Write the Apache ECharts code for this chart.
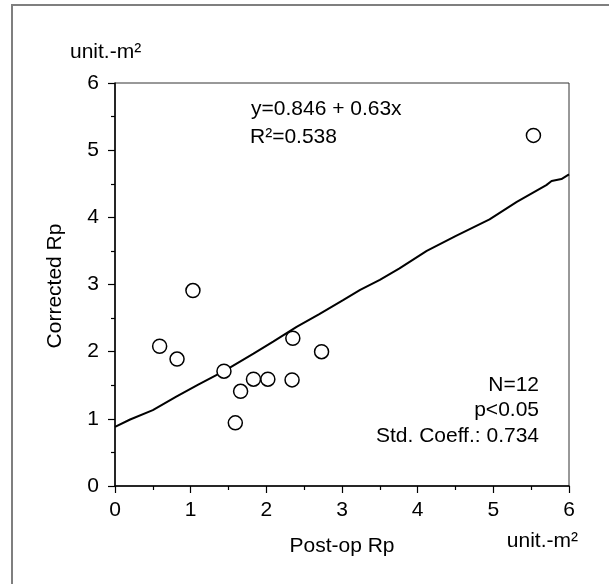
<!DOCTYPE html>
<html><head><meta charset="utf-8">
<script src="https://cdn.jsdelivr.net/npm/echarts@6/dist/echarts.min.js"></script>
<style>html,body{margin:0;padding:0;background:#fff}#c{width:609px;height:584px}</style>
</head><body><div id="c"></div>
<script>
// ---- data ----
const postOpRp    = [0.59, 0.82, 1.03, 1.44, 1.59, 1.66, 1.83, 2.02, 2.34, 2.35, 2.73, 5.53];
const correctedRp = [2.08, 1.89, 2.91, 1.71, 0.94, 1.41, 1.59, 1.59, 1.58, 2.20, 2.00, 5.22];
const fitX = [0, 0.2, 0.5, 0.81, 1.1, 1.44, 1.83, 2.09, 2.40, 2.70, 3.02, 3.24, 3.50, 3.76, 4.12, 4.50, 4.95, 5.31, 5.70, 5.77, 5.90, 6.00];
const fitY = [0.88, 0.99, 1.13, 1.33, 1.51, 1.71, 1.97, 2.15, 2.37, 2.56, 2.77, 2.92, 3.07, 3.24, 3.50, 3.72, 3.97, 4.23, 4.48, 4.54, 4.57, 4.64];
const xTickLabels = ['0', '1', '2', '3', '4', '5', '6'];
const yTickLabels = ['0', '1', '2', '3', '4', '5', '6'];
const equationLines = ['y=0.846 + 0.63x', 'R²=0.538'];
const statLines = ['N=12', 'p<0.05', 'Std. Coeff.: 0.734'];
const xTitle = 'Post-op Rp';
const yTitle = 'Corrected Rp';
const unitText = 'unit.-m²';

// ---- chart ----
const FONT = '"Liberation Sans", Arial, Helvetica, sans-serif';
const FS = 21;
const chart = echarts.init(document.getElementById('c'), null, {renderer: 'canvas'});

function txt(text, x, y, align, extra) {
  return Object.assign({
    type: 'text', x: x, y: y, z: 100,
    style: {
      text: text, fill: '#000',
      font: FS + 'px ' + FONT,
      fontSize: FS, fontFamily: FONT,
      textAlign: align, align: align,
      textVerticalAlign: 'middle', verticalAlign: 'middle'
    }
  }, extra || {});
}

const scatterData = postOpRp.map((v, i) => [v, correctedRp[i]]);
const lineData = fitX.map((v, i) => [v, fitY[i]]);

const axisCommon = {
  type: 'value', min: 0, max: 6, interval: 1,
  axisLine: {show: true, onZero: false, lineStyle: {color: '#000', width: 1.5}},
  axisTick: {show: true, inside: false, length: 7, lineStyle: {color: '#000', width: 1.2}},
  minorTick: {show: true, splitNumber: 2, length: 4, lineStyle: {color: '#000', width: 1.2}},
  splitLine: {show: false},
  minorSplitLine: {show: false}
};

const option = {
  animation: false,
  backgroundColor: '#fff',
  grid: {left: 115, top: 83, right: 40, bottom: 98, show: true, borderColor: '#333', borderWidth: 1, backgroundColor: 'transparent', containLabel: false},
  xAxis: Object.assign({}, axisCommon, {
    axisLabel: {color: '#000', fontSize: FS, fontFamily: FONT, margin: 14,
      formatter: (v) => xTickLabels[Math.round(v)]}
  }),
  yAxis: Object.assign({}, axisCommon, {
    axisLabel: {color: '#000', fontSize: FS, fontFamily: FONT, margin: 16,
      formatter: (v) => yTickLabels[Math.round(v)]}
  }),
  series: [
    {type: 'line', data: lineData, showSymbol: false, symbol: 'none', smooth: false,
     lineStyle: {color: '#000', width: 2}, z: 2},
    {type: 'scatter', data: scatterData, symbol: 'circle', symbolSize: 14,
     itemStyle: {color: '#fff', borderColor: '#000', borderWidth: 1.5, opacity: 1}, z: 3}
  ],
  graphic: [
    {type: 'rect', shape: {x: 12, y: 5, width: 700, height: 700}, style: {fill: 'none', stroke: '#7f7f7f', lineWidth: 2}, z: 0, silent: true},
    txt(unitText, 70, 52.5, 'left'),
    txt(equationLines[0], 251, 109, 'left'),
    txt(equationLines[1], 250, 137.5, 'left'),
    txt(statLines[0], 539, 385, 'right'),
    txt(statLines[1], 539, 410.5, 'right'),
    txt(statLines[2], 539, 436, 'right'),
    txt(xTitle, 342, 546.5, 'center'),
    txt(unitText, 578, 541, 'right'),
    txt(yTitle, 55, 286, 'center', {rotation: Math.PI / 2})
  ]
};
chart.setOption(option);
</script>
</body></html>
